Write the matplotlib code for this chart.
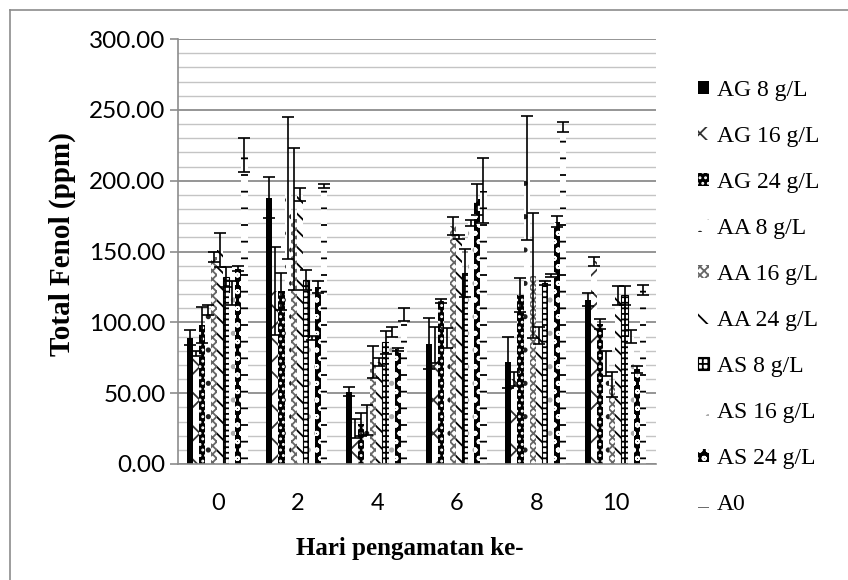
import matplotlib
matplotlib.use('Agg')
import matplotlib.pyplot as plt
import numpy as np
from matplotlib.patches import Patch
from matplotlib.lines import Line2D
from matplotlib.ticker import MultipleLocator, FormatStrFormatter

days = ['0', '2', '4', '6', '8', '10']
labels = ['AG 8 g/L', 'AG 16 g/L', 'AG 24 g/L', 'AA 8 g/L', 'AA 16 g/L',
          'AA 24 g/L', 'AS 8 g/L', 'AS 16 g/L', 'AS 24 g/L', 'A0']

ag8 = [89, 188, 51, 85, 72, 116]
ag8_err = [5.3, 14.7, 3.3, 18, 18, 4.5]
ag16 = [78, 122, 25, 84, 60, 143]
ag16_err = [1.5, 31, 6.5, 13, 5, 3.3]
ag24 = [98, 122, 28, 115, 119, 99]
ag24_err = [12.5, 13, 8, 1.5, 12, 3.5]
aa8 = [109, 195, 31, 89, 202, 71]
aa8_err = [3.5, 50, 10.6, 7, 44, 9]
aa16 = [146, 173, 72, 168, 133, 56]
aa16_err = [3.5, 50, 11.5, 6.5, 44, 9]
aa24 = [151, 190, 72, 160, 91, 119]
aa24_err = [12, 4.5, 2.5, 1.5, 6, 7]
as8 = [132, 130, 86, 135, 128, 119]
as8_err = [7, 7, 8, 17, 1.5, 7]
as16 = [121, 89, 93, 170, 133, 90]
as16_err = [8.5, 1.5, 3.5, 2.3, 1.2, 4.3]
as24 = [138, 125, 81, 187, 171, 67]
as24_err = [2, 4, 1, 11, 4, 2.5]
a0 = [218, 196, 105.5, 193, 238, 123]
a0_err = [12, 1.5, 4.4, 23, 3.3, 3.5]

series = [ag8, ag16, ag24, aa8, aa16, aa24, as8, as16, as24, a0]
errors = [ag8_err, ag16_err, ag24_err, aa8_err, aa16_err, aa24_err,
          as8_err, as16_err, as24_err, a0_err]

# (facecolor, hatch colour, hatch, outline width)
styles = [
    ('black', 'black', None, 0),
    ('white', '#333333', 'x', 0),
    ('black', 'white', '...', 0),
    ('white', '#222222', '.', 0),
    ('white', '#666666', 'xxxx', 0),
    ('white', 'black', '\\\\', 0),
    ('white', 'black', '+++', 0.8),
    ('white', '#aaaaaa', '.', 0),
    ('black', 'white', 'oo', 0),
    ('white', 'black', '-', 0),
]

plt.rcParams['hatch.linewidth'] = 1.3

fig = plt.figure(figsize=(8.48, 5.8), dpi=100)
ax = fig.add_axes([178 / 848, 1 - 464 / 580, (656 - 178) / 848, (464 - 39) / 580])

x = np.arange(len(days))
w = 0.0765
for i, (vals, errs) in enumerate(zip(series, errors)):
    fc, hc, h, lw = styles[i]
    pos = x + (i - 4.5) * w - 0.01
    ax.bar(pos, vals, w, color=fc, edgecolor=hc, hatch=h, linewidth=lw, zorder=2)
for i, (vals, errs) in enumerate(zip(series, errors)):
    pos = x + (i - 4.5) * w - 0.01
    ax.errorbar(pos, vals, yerr=errs, fmt='none', ecolor='black',
                elinewidth=1.2, capsize=4, capthick=1.2, zorder=3)

ax.set_xlim(-0.5, 5.5)
ax.set_ylim(0, 300)
ax.yaxis.set_major_locator(MultipleLocator(50))
ax.yaxis.set_minor_locator(MultipleLocator(10))
ax.yaxis.set_major_formatter(FormatStrFormatter('%.2f'))
ax.set_xticks(x)
ax.set_xticklabels(days)
ax.grid(axis='y', which='major', color='#8c8c8c', linewidth=1.3, zorder=0)
ax.grid(axis='y', which='minor', color='#c4c4c4', linewidth=1.0, zorder=0)
ax.set_axisbelow(True)
for s in ['top', 'right']:
    ax.spines[s].set_visible(False)
ax.spines['left'].set_color('#8c8c8c')
ax.spines['bottom'].set_color('#8c8c8c')
ax.spines['left'].set_linewidth(1.2)
ax.spines['bottom'].set_linewidth(1.2)
ax.tick_params(axis='y', which='major', length=6, color='#8c8c8c', width=1.2,
               labelsize=17.5, pad=3)
ax.tick_params(axis='y', which='minor', length=0)
ax.tick_params(axis='x', length=0, labelsize=17, pad=21)
for t in ax.get_yticklabels() + ax.get_xticklabels():
    t.set_fontfamily('Lato')

ax.set_ylabel('Total Fenol (ppm)', fontfamily='Liberation Serif',
              fontweight='bold', fontsize=21, va='center')
ax.yaxis.set_label_coords((62 - 178) / 478, (464 - 244) / 425)
ax.set_xlabel('Hari pengamatan ke-', fontfamily='Liberation Serif',
              fontweight='bold', fontsize=18, va='center')
ax.xaxis.set_label_coords((410 - 178) / 478, (464 - 548) / 425)

handles = [Patch(facecolor=fc, edgecolor=hc, hatch=h, linewidth=lw)
           for fc, hc, h, lw in styles]
fig.legend(handles, labels, loc='upper left',
           bbox_to_anchor=(698 / 848, 1 - 80 / 580),
           frameon=False, prop={'family': 'Liberation Serif', 'size': 17},
           handlelength=0.45, handleheight=0.45, handletextpad=0.35,
           labelspacing=1.06, borderaxespad=0, borderpad=0)

fig.add_artist(Line2D([10 / 848, 1], [1 - 10 / 580, 1 - 10 / 580],
                      color='#8c8c8c', linewidth=1.2, transform=fig.transFigure))
fig.add_artist(Line2D([10 / 848, 10 / 848], [0, 1 - 10 / 580],
                      color='#8c8c8c', linewidth=1.2, transform=fig.transFigure))

fig.savefig('out.png', dpi=100)
